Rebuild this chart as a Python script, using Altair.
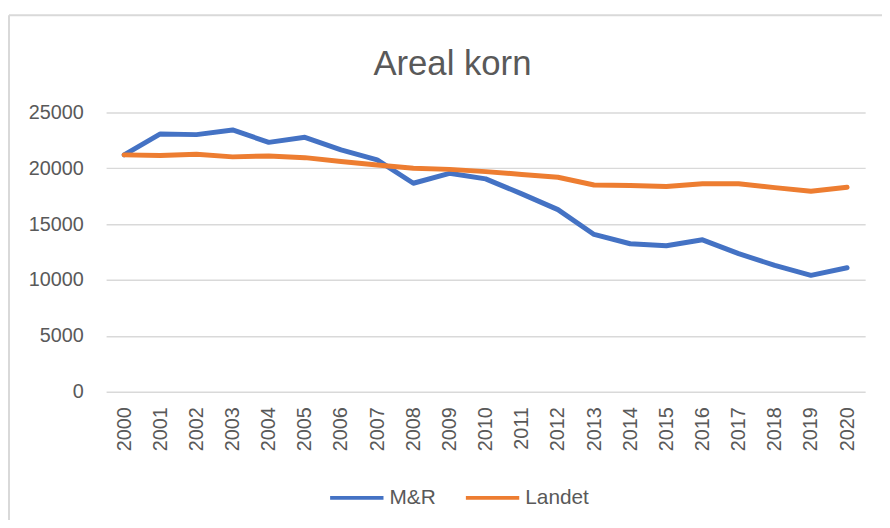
import altair as alt
import pandas as pd

years = ["2000", "2001", "2002", "2003", "2004", "2005", "2006", "2007", "2008", "2009", "2010",
         "2011", "2012", "2013", "2014", "2015", "2016", "2017", "2018", "2019", "2020"]
mr = [21200, 23070, 23010, 23430, 22320, 22770, 21640, 20750, 18660, 19550, 19050,
      17710, 16300, 14080, 13250, 13070, 13600, 12360, 11310, 10420, 11100]
landet = [21200, 21150, 21250, 21020, 21100, 20950, 20600, 20300, 20000, 19900, 19700,
          19450, 19200, 18500, 18450, 18370, 18620, 18620, 18270, 17950, 18300]
series_names = ["M&R", "Landet"]
series_colors = ["#4472C4", "#ED7D31"]
y_ticks = [0, 5000, 10000, 15000, 20000, 25000]
title_text = "Areal korn"

rows = []
for name, vals in zip(series_names, [mr, landet]):
    for yr, v in zip(years, vals):
        rows.append({"year": yr, "value": v, "series": name})
df = pd.DataFrame(rows)

FONT = "Liberation Sans"
GREY = "#595959"

lines = alt.Chart(df).mark_line(strokeWidth=5, strokeCap="round", strokeJoin="round").encode(
    x=alt.X("year:O", sort=years, title=None,
            scale=alt.Scale(type="point", padding=0.5),
            axis=alt.Axis(labelAngle=270, labelPadding=15, ticks=False, domain=False,
                          labelFontSize=20, labelColor=GREY, labelFont=FONT)),
    y=alt.Y("value:Q", title=None,
            scale=alt.Scale(domain=[0, 25000]),
            axis=alt.Axis(values=y_ticks, format="d", labelPadding=23, ticks=False, domain=False,
                          labelFontSize=20, labelColor=GREY, labelFont=FONT,
                          grid=True, gridColor="#d9d9d9", gridWidth=1.5)),
    color=alt.Color("series:N", sort=series_names,
                    scale=alt.Scale(domain=series_names, range=series_colors),
                    legend=alt.Legend(title=None, orient="none", direction="horizontal",
                                      legendX=224, legendY=360,
                                      symbolType="stroke", symbolSize=2900,
                                      symbolStrokeWidth=4, labelFontSize=21,
                                      labelFont=FONT, labelColor=GREY,
                                      labelOffset=4, columnPadding=22)),
)

deco = alt.Data(values=[{}])
border_top = alt.Chart(deco).mark_rule(color="#d9d9d9", strokeWidth=2).encode(
    x=alt.value(-98), x2=alt.value(800), y=alt.value(-98))
border_left = alt.Chart(deco).mark_rule(color="#d9d9d9", strokeWidth=2).encode(
    x=alt.value(-98), y=alt.value(-98), y2=alt.value(430))
title = alt.Chart(deco).mark_text(
    text=title_text, font=FONT, fontSize=35, color=GREY, align="center", baseline="alphabetic"
).encode(x=alt.value(349.5), y=alt.value(-38))

chart = alt.layer(border_top, border_left, title, lines).properties(
    width=766, height=282,
    autosize=alt.AutoSizeParams(type="none"),
    padding={"left": 99, "top": 103, "right": 17, "bottom": 127},
).configure_view(stroke=None)

chart.save("out.html", embed_options={"renderer": "svg", "actions": False})
